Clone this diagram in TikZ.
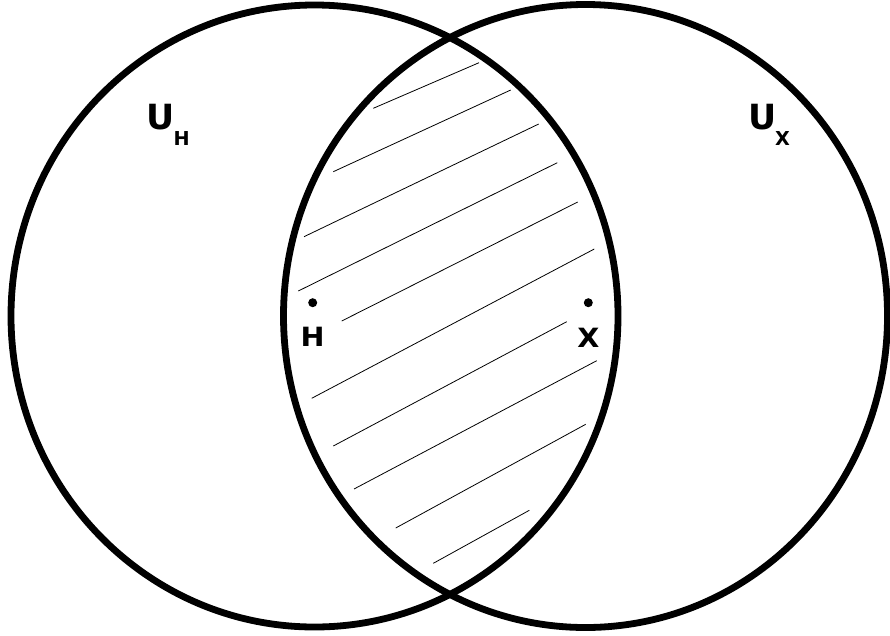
\documentclass[tikz,border=0pt]{standalone}
\usepackage{fontspec}
\setsansfont{DejaVu Sans}
\usepackage{tikz}
\usetikzlibrary{positioning}

\begin{document}
\begin{tikzpicture}[
  x=1pt, y=-1pt,
  ring/.style={draw, line width=6.8pt},
  hatch/.style={draw, line width=0.8pt},
  dot/.style={circle, fill, inner sep=0pt, minimum size=9pt},
  ptlabel/.style={font=\sffamily\bfseries\fontsize{26.5}{28}\selectfont, inner sep=0pt, xscale=1.08},
  setname/.style={font=\sffamily\bfseries\fontsize{34.7}{36}\selectfont, inner sep=0pt},
  setsub/.style={font=\sffamily\bfseries\fontsize{19.2}{20}\selectfont, inner sep=0pt}
]
\useasboundingbox (0,0) rectangle (890,635);
% the two sets
\draw[ring] (314.5,316) ellipse [x radius=303.5pt, y radius=311pt];
\draw[ring] (585.5,316) ellipse [x radius=302pt, y radius=311.5pt];
% hatching of the overlap
\draw[hatch] (373.3,108.3) -- (479.0,62.7);
\draw[hatch] (333.3,171.7) -- (510.7,90.0);
\draw[hatch] (304.0,236.7) -- (538.7,124.0);
\draw[hatch] (298.3,291.0) -- (557.3,162.7);
\draw[hatch] (341.7,321.0) -- (577.7,202.0);
\draw[hatch] (311.7,398.3) -- (594.3,249.0);
\draw[hatch] (333.3,446.0) -- (566.7,321.7);
\draw[hatch] (354.0,489.0) -- (596.7,360.7);
\draw[hatch] (395.7,528.0) -- (585.7,424.3);
\draw[hatch] (433.3,563.3) -- (529.3,510.3);
% points
\node[dot] (h) at (312.7,302.7) {};
\node[dot] (x) at (588.3,302.7) {};
\node[ptlabel, below=19.5pt of h] (hlbl) {H};
\node[ptlabel, below=20.5pt of x] (xlbl) {X};
% set names
\node[setname] (uh) at (160.5,116.7) {U};
\node[setsub] (uhsub) at (181.7,138.7) {H};
\node[setname] (ux) at (762.8,116.7) {U};
\node[setsub] (uxsub) at (782.5,138.7) {X};
\end{tikzpicture}
\end{document}
